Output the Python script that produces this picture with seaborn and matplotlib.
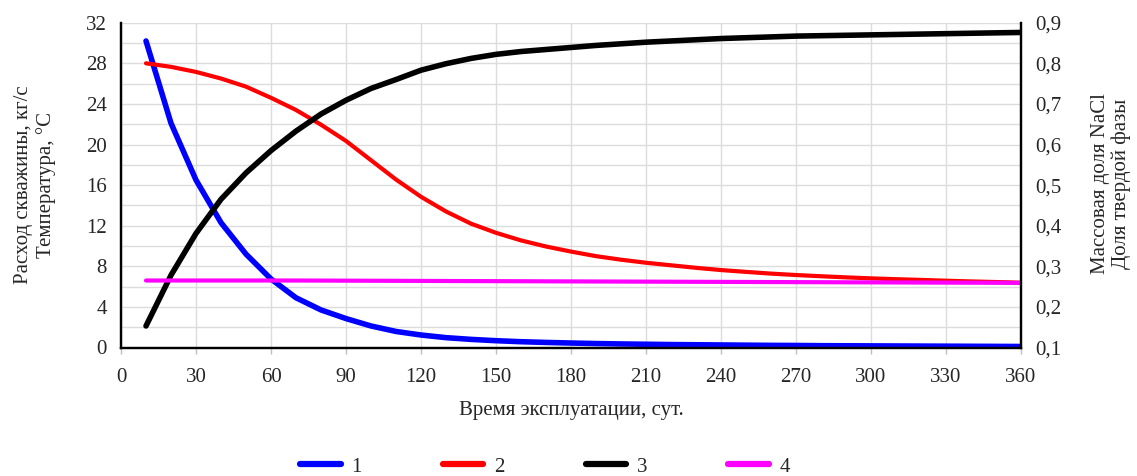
import matplotlib

matplotlib.use("Agg")
import matplotlib.pyplot as plt
import seaborn as sns
from matplotlib.ticker import FuncFormatter, MultipleLocator

days = [10, 20, 30, 40, 50, 60, 70, 80, 90, 100, 110, 120,
        130, 140, 150, 160, 170, 180, 190, 200, 210, 220, 230, 240,
        250, 260, 270, 280, 290, 300, 310, 320, 330, 340, 350, 360]

# 1 - well flow rate, kg/s (left axis)
flow = [30.2, 22.1, 16.5, 12.3, 9.2, 6.75, 4.9, 3.7, 2.85, 2.12, 1.58, 1.23,
        0.97, 0.8, 0.67, 0.57, 0.5, 0.44, 0.39, 0.35, 0.32, 0.29, 0.27, 0.25,
        0.23, 0.21, 0.2, 0.18, 0.17, 0.16, 0.15, 0.14, 0.13, 0.12, 0.11, 0.1]

# 2 - temperature, C (left axis)
temp = [28.0, 27.65, 27.15, 26.5, 25.7, 24.6, 23.4, 21.95, 20.35, 18.45, 16.55, 14.85,
        13.4, 12.2, 11.3, 10.55, 9.95, 9.45, 9.0, 8.65, 8.35, 8.1, 7.85, 7.63,
        7.45, 7.28, 7.14, 7.02, 6.91, 6.81, 6.73, 6.66, 6.58, 6.51, 6.45, 6.38]

# 3 - solid phase fraction (right axis)
solid = [0.153, 0.278, 0.381, 0.465, 0.53, 0.585, 0.633, 0.675, 0.709, 0.738, 0.76, 0.783,
         0.799, 0.812, 0.822, 0.829, 0.834, 0.839, 0.844, 0.848, 0.852, 0.855, 0.858, 0.861,
         0.863, 0.865, 0.867, 0.868, 0.869, 0.87, 0.871, 0.872, 0.873, 0.874, 0.875, 0.876]

# 4 - NaCl mass fraction (right axis)
nacl = [0.265, 0.265, 0.265, 0.265, 0.265, 0.265, 0.265, 0.2648, 0.2646, 0.2644, 0.2642, 0.264,
        0.2638, 0.2636, 0.2634, 0.2632, 0.263, 0.2628, 0.2626, 0.2624, 0.2622, 0.262, 0.2618, 0.2616,
        0.2614, 0.2612, 0.261, 0.2608, 0.2606, 0.2604, 0.2602, 0.26, 0.2598, 0.2596, 0.2594, 0.2592]

left_ticks = [0, 4, 8, 12, 16, 20, 24, 28, 32]
right_ticks = [0.1, 0.2, 0.3, 0.4, 0.5, 0.6, 0.7, 0.8, 0.9]
x_ticks = [0, 30, 60, 90, 120, 150, 180, 210, 240, 270, 300, 330, 360]
labels = ["1", "2", "3", "4"]

FS = 15

sns.set_theme(style="white")
plt.rcParams["font.family"] = ["Liberation Serif", "DejaVu Serif"]
plt.rcParams["font.size"] = FS

W, H = 1137, 476
fig = plt.figure(figsize=(W / 100, H / 100), dpi=100)
ax = fig.add_axes([121 / W, 1 - 347.5 / H, 900 / W, 324.8 / H])
ax2 = ax.twinx()

sns.lineplot(x=days, y=flow, ax=ax, color="#0000ff", lw=4, legend=False)
sns.lineplot(x=days, y=temp, ax=ax, color="#ff0000", lw=3, legend=False)
sns.lineplot(x=days, y=solid, ax=ax2, color="#000000", lw=4, legend=False)
sns.lineplot(x=days, y=nacl, ax=ax2, color="#ff00ff", lw=3, legend=False)

ax.set_xlim(0, 360)
ax.set_ylim(0, 32)
ax2.set_ylim(0.1, 0.9)
ax.set_xticks(x_ticks)
ax.set_yticks(left_ticks)
ax.yaxis.set_minor_locator(MultipleLocator(2))
ax2.set_yticks(right_ticks)
ax2.yaxis.set_major_formatter(FuncFormatter(lambda v, _: f"{v:.1f}".replace(".", ",")))

ax.grid(True, which="both", axis="y", color="#dcdcdc", lw=1)
ax.grid(True, which="major", axis="x", color="#dcdcdc", lw=1)
ax2.grid(False)

for a in (ax, ax2):
    a.spines["top"].set_visible(False)
    for s in ("left", "right", "bottom"):
        a.spines[s].set_color("black")
        a.spines[s].set_linewidth(1.6)

ax.tick_params(axis="x", direction="out", length=4, width=1, color="#bfbfbf",
               pad=11, labelsize=FS, bottom=True)
ax.tick_params(axis="y", which="both", length=0, pad=10, labelsize=FS)
ax2.tick_params(axis="y", which="both", length=0, pad=10, labelsize=FS)
ax.set_ylabel("")
ax2.set_ylabel("")

fig.text(571 / W, 1 - 410 / H, "Время эксплуатации, сут.", ha="center", va="center", fontsize=FS)
fig.text(35 / W, 1 - 185 / H, "Расход скважины, кг/с\nТемпература, °C", rotation=90,
         ha="center", va="center", multialignment="center", fontsize=FS, linespacing=1.2)
fig.text(1111 / W, 1 - 184 / H, "Массовая доля NaCl\nДоля твердой фазы", rotation=90,
         ha="center", va="center", multialignment="center", fontsize=FS, linespacing=1.05)

handles = ax.lines[:2] + ax2.lines[:2]
leg = fig.legend(handles, labels, loc="center", ncol=4,
                 bbox_to_anchor=(545 / W, 1 - 467 / H),
                 frameon=False, handlelength=1.95, handletextpad=0.5,
                 columnspacing=3.9, fontsize=FS)
for h in leg.legend_handles:
    h.set_linewidth(4.5)
    h.set_solid_capstyle("round")

fig.savefig("out.png", dpi=100)
